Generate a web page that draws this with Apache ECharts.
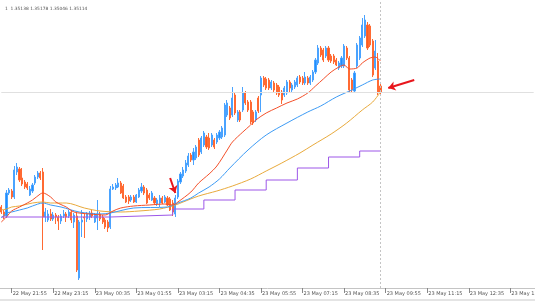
<!DOCTYPE html>
<html><head><meta charset="utf-8">
<script src="https://cdn.jsdelivr.net/npm/echarts@6/dist/echarts.min.js"></script>
<style>html,body{margin:0;padding:0;background:#fff;overflow:hidden}#c{width:535px;height:301px}</style>
</head><body><div id="c"></div>
<script>
// header quote text
const headerText = '1  1.35138 1.35178 1.35046 1.35114';

// time axis tick labels (every 80 minutes)
const tickLabels = ['22 May 21:55','22 May 23:15','23 May 00:35','23 May 01:55','23 May 03:15','23 May 04:35','23 May 05:55','23 May 07:15','23 May 08:35','23 May 09:55','23 May 11:15','23 May 12:35','23 May 13:55'];

// 5-minute bar slots from 22 May 21:35 (including empty future slots)
const categories = [];
for (let k = 0; k < 206; k++) {
  const m = 21 * 60 + 35 + 5 * k;
  const day = m >= 1440 ? 23 : 22;
  const mm = m % 1440;
  categories.push(day + ' May ' + String(Math.floor(mm / 60)).padStart(2, '0') + ':' + String(mm % 60).padStart(2, '0'));
}

// candles: [open, close, low, high]
const ohlc = [
[1.3393,1.3388,1.3386,1.3395],[1.3388,1.3384,1.3381,1.3390],[1.3384,1.3407,1.3382,1.3410],[1.3407,1.3410,1.3405,1.3412],
[1.3409,1.3403,1.3401,1.3411],[1.3403,1.3430,1.3401,1.3434],[1.3428,1.3433,1.3425,1.3437],[1.3431,1.3420,1.3418,1.3433],
[1.3422,1.3416,1.3414,1.3432],[1.3418,1.3413,1.3411,1.3420],[1.3416,1.3412,1.3410,1.3418],[1.3405,1.3411,1.3404,1.3414],
[1.3409,1.3415,1.3407,1.3417],[1.3417,1.3423,1.3415,1.3425],[1.3423,1.3427,1.3421,1.3429],[1.3427,1.3422,1.3420,1.3429],
[1.3428,1.3383,1.3350,1.3432],[1.3383,1.3388,1.3378,1.3392],[1.3380,1.3386,1.3378,1.3390],[1.3386,1.3381,1.3379,1.3391],
[1.3381,1.3385,1.3379,1.3388],[1.3385,1.3383,1.3376,1.3387],[1.3383,1.3379,1.3370,1.3385],[1.3379,1.3384,1.3376,1.3386],
[1.3384,1.3386,1.3382,1.3390],[1.3386,1.3383,1.3378,1.3388],[1.3384,1.3388,1.3382,1.3390],[1.3388,1.3380,1.3377,1.3390],
[1.3378,1.3385,1.3372,1.3387],[1.3384,1.3330,1.3328,1.3387],[1.3322,1.3378,1.3320,1.3380],[1.3378,1.3380,1.3363,1.3390],
[1.3383,1.3382,1.3362,1.3386],[1.3381,1.3386,1.3378,1.3388],[1.3383,1.3387,1.3380,1.3389],[1.3387,1.3384,1.3382,1.3390],
[1.3378,1.3385,1.3377,1.3387],[1.3382,1.3386,1.3370,1.3400],[1.3386,1.3381,1.3379,1.3388],[1.3383,1.3378,1.3376,1.3385],
[1.3380,1.3373,1.3371,1.3382],[1.3378,1.3372,1.3368,1.3380],[1.3373,1.3411,1.3371,1.3414],[1.3411,1.3413,1.3410,1.3416],
[1.3412,1.3415,1.3410,1.3417],[1.3413,1.3417,1.3412,1.3422],[1.3417,1.3407,1.3406,1.3419],[1.3414,1.3402,1.3401,1.3416],
[1.3403,1.3398,1.3397,1.3405],[1.3403,1.3399,1.3396,1.3405],[1.3400,1.3403,1.3398,1.3405],[1.3403,1.3398,1.3397,1.3405],
[1.3398,1.3405,1.3397,1.3406],[1.3403,1.3410,1.3402,1.3412],[1.3409,1.3413,1.3407,1.3417],[1.3413,1.3407,1.3405,1.3415],
[1.3410,1.3397,1.3396,1.3412],[1.3405,1.3402,1.3400,1.3407],[1.3400,1.3407,1.3399,1.3409],[1.3402,1.3397,1.3395,1.3404],
[1.3396,1.3400,1.3394,1.3402],[1.3397,1.3402,1.3393,1.3405],[1.3402,1.3397,1.3396,1.3404],[1.3398,1.3403,1.3397,1.3405],
[1.3402,1.3395,1.3394,1.3404],[1.3401,1.3390,1.3389,1.3403],[1.3397,1.3388,1.3384,1.3400],[1.3386,1.3402,1.3383,1.3405],
[1.3403,1.3419,1.3401,1.3421],[1.3418,1.3426,1.3416,1.3428],[1.3424,1.3430,1.3422,1.3433],[1.3429,1.3437,1.3427,1.3440],
[1.3435,1.3444,1.3433,1.3447],[1.3445,1.3440,1.3438,1.3447],[1.3440,1.3448,1.3435,1.3452],[1.3442,1.3453,1.3440,1.3455],
[1.3460,1.3445,1.3443,1.3462],[1.3448,1.3462,1.3446,1.3464],[1.3455,1.3467,1.3453,1.3469],[1.3463,1.3453,1.3451,1.3465],
[1.3462,1.3452,1.3450,1.3467],[1.3455,1.3465,1.3453,1.3467],[1.3460,1.3453,1.3451,1.3462],[1.3458,1.3465,1.3456,1.3467],
[1.3462,1.3468,1.3460,1.3470],[1.3463,1.3472,1.3461,1.3474],[1.3465,1.3495,1.3463,1.3497],[1.3485,1.3497,1.3483,1.3500],
[1.3492,1.3482,1.3480,1.3494],[1.3485,1.3502,1.3483,1.3513],[1.3505,1.3487,1.3485,1.3507],[1.3480,1.3488,1.3478,1.3490],
[1.3488,1.3480,1.3478,1.3490],[1.3490,1.3507,1.3488,1.3513],[1.3507,1.3497,1.3495,1.3509],[1.3498,1.3490,1.3488,1.3500],
[1.3498,1.3478,1.3476,1.3500],[1.3488,1.3477,1.3475,1.3490],[1.3480,1.3488,1.3478,1.3490],[1.3502,1.3489,1.3487,1.3504],
[1.3505,1.3522,1.3488,1.3524],[1.3522,1.3515,1.3513,1.3524],[1.3521,1.3512,1.3510,1.3523],[1.3520,1.3512,1.3510,1.3522],
[1.3512,1.3518,1.3510,1.3520],[1.3517,1.3510,1.3508,1.3519],[1.3515,1.3507,1.3505,1.3517],[1.3513,1.3505,1.3503,1.3515],
[1.3508,1.3500,1.3496,1.3510],[1.3505,1.3512,1.3503,1.3514],[1.3507,1.3518,1.3505,1.3520],[1.3518,1.3512,1.3508,1.3520],
[1.3510,1.3515,1.3508,1.3517],[1.3513,1.3518,1.3511,1.3520],[1.3515,1.3522,1.3513,1.3524],[1.3523,1.3518,1.3516,1.3525],
[1.3522,1.3517,1.3515,1.3524],[1.3517,1.3523,1.3515,1.3528],[1.3522,1.3517,1.3515,1.3524],[1.3517,1.3523,1.3515,1.3525],
[1.3520,1.3528,1.3518,1.3530],[1.3528,1.3540,1.3526,1.3542],[1.3537,1.3552,1.3535,1.3555],[1.3552,1.3545,1.3543,1.3554],
[1.3550,1.3540,1.3538,1.3552],[1.3544,1.3552,1.3542,1.3554],[1.3552,1.3540,1.3538,1.3554],[1.3544,1.3539,1.3537,1.3546],
[1.3544,1.3538,1.3536,1.3546],[1.3540,1.3535,1.3534,1.3542],[1.3532,1.3537,1.3530,1.3539],[1.3534,1.3542,1.3532,1.3544],
[1.3534,1.3554,1.3532,1.3556],[1.3552,1.3542,1.3540,1.3554],[1.3542,1.3510,1.3508,1.3544],[1.3520,1.3510,1.3508,1.3522],
[1.3509,1.3527,1.3507,1.3529],[1.3534,1.3555,1.3532,1.3557],[1.3542,1.3562,1.3540,1.3564],[1.3555,1.3575,1.3553,1.3582],
[1.3564,1.3580,1.3562,1.3585],[1.3575,1.3552,1.3550,1.3578],[1.3574,1.3555,1.3553,1.3576],[1.3559,1.3525,1.3523,1.3561],
[1.3532,1.3549,1.3530,1.3560],[1.3539,1.3507,1.3505,1.3547],[1.3514,1.3508,1.3505,1.3516]
];

// moving averages, read at sampled bars: [barIndex, value]
const maFast = [[0,1.3378],[2,1.3383],[4,1.3389],[7,1.3393],[10,1.3397],[12,1.3400],[15,1.3406],[16,1.3407],[19,1.3403],[21,1.3398],[25,1.3393],[28,1.3388],[34,1.3386],[40,1.3385],[43,1.3389],[46,1.3392],[51,1.3394],[57,1.3395],[63,1.3396],[66,1.3395],[68,1.3398],[73,1.3408],[76,1.3417],[80,1.3426],[83,1.3434],[87,1.3450],[89,1.3458],[93,1.3468],[96,1.3475],[98,1.3480],[102,1.3487],[106,1.3492],[110,1.3497],[114,1.3501],[118,1.3507],[121,1.3514],[124,1.3521],[127,1.3528],[130,1.3533],[132,1.3535],[134,1.3531],[137,1.3532],[139,1.3537],[142,1.3542],[144,1.3543],[146,1.3539]];
const maMid = [[0,1.3382],[2,1.3387],[4,1.3388],[7,1.3390],[10,1.3392],[12,1.3394],[16,1.3397],[19,1.3395],[23,1.3393],[30,1.3388],[38,1.3386],[42,1.3387],[51,1.3392],[64,1.3393],[68,1.3397],[73,1.3402],[76,1.3407],[80,1.3413],[84,1.3421],[88,1.3432],[95,1.3450],[102,1.3465],[110,1.3477],[118,1.3488],[123,1.3494],[129,1.3503],[135,1.3510],[139,1.3515],[143,1.3520],[146,1.3521]];
const maSlow = [[0,1.3390],[2,1.3391],[4,1.3393],[7,1.3394],[12,1.3397],[16,1.3398],[19,1.3397],[25,1.3397],[32,1.3392],[38,1.3389],[46,1.3388],[53,1.3389],[61,1.3391],[67,1.3395],[70,1.3398],[76,1.3404],[83,1.3409],[89,1.3414],[96,1.3421],[102,1.3429],[108,1.3437],[115,1.3447],[120,1.3455],[127,1.3466],[133,1.3477],[139,1.3490],[143,1.3498],[146,1.3508]];
// hourly step level: [barIndex where level starts, value]
const hourLevel = [[0,1.3383],[42,1.3385],[66,1.3391],[78,1.3400],[90,1.3410],[102,1.3420],[114,1.3432],[126,1.3443],[138,1.3449],[146,1.3449]];

const bidPrice = 1.3508;
const lastBar = 146;
const arrowDown = [[65,1.3422],[67,1.3407]];
const arrowLeft = [[159,1.3520],[149,1.3512]];

const chart = echarts.init(document.getElementById('c'), null, {renderer: 'canvas', width: 535, height: 301});
const FONT = 'DejaVu Sans';
chart.setOption({
  animation: false,
  backgroundColor: '#ffffff',
  title: {text: headerText, left: 0, top: 2, textStyle: {fontSize: 4.4, fontWeight: 'normal', color: '#555', fontFamily: FONT}},
  grid: {left: 0, right: 0, top: 0, bottom: 13, containLabel: false, outerBoundsMode: 'none'},
  xAxis: {
    type: 'category', data: categories, boundaryGap: true,
    axisLine: {show: true, lineStyle: {color: '#c4c4c4', width: 1}},
    axisTick: {show: true, alignWithLabel: true, length: 5, lineStyle: {color: '#888'},
      interval: (i, v) => tickLabels.indexOf(v) >= 0},
    axisLabel: {show: true, interval: (i, v) => tickLabels.indexOf(v) >= 0, hideOverlap: false,
      align: 'left', padding: [0, 0, 0, 1], margin: 3, fontSize: 5, color: '#555', fontFamily: FONT},
    splitLine: {show: false}
  },
  yAxis: {type: 'value', min: 1.3312, max: 1.3600, show: false, splitLine: {show: false}},
  graphic: [
    {type: 'rect', left: 0, bottom: 0, shape: {width: 535, height: 2}, style: {fill: '#e4e4e4'}, silent: true}
  ],
  series: [
    {
      type: 'candlestick', data: ohlc, barWidth: 1.6,
      itemStyle: {color: '#1e8fff', color0: '#ff5a1f', borderColor: '#4aa3ff', borderColor0: '#ff6a33', borderWidth: 1},
      markLine: {
        silent: true, symbol: ['none', 'none'], label: {show: false},
        data: [
          [{coord: [0, bidPrice], lineStyle: {color: '#e0e0e0', width: 1, type: 'solid'}}, {coord: [205, bidPrice]}],
          [{coord: [lastBar, 1.3312], lineStyle: {color: '#c4c4c4', width: 1, type: [2, 2]}}, {coord: [lastBar, 1.3600]}]
        ]
      }
    },
    {type: 'line', data: maSlow, showSymbol: false, smooth: 0.3, lineStyle: {color: '#e9aa3c', width: 1}, z: 3},
    {type: 'line', data: maMid, showSymbol: false, smooth: 0.3, lineStyle: {color: '#3d9bf5', width: 1}, z: 3},
    {type: 'line', data: maFast, showSymbol: false, smooth: 0.3, lineStyle: {color: '#f4502a', width: 1}, z: 3,
      markLine: {
        silent: true, symbol: ['none', 'arrow'], symbolSize: 7, label: {show: false},
        lineStyle: {color: '#e8161c', width: 2, type: 'solid'},
        data: [
          [{coord: arrowDown[0]}, {coord: arrowDown[1]}],
          [{coord: arrowLeft[0]}, {coord: arrowLeft[1]}]
        ]
      }
    },
    {type: 'line', data: hourLevel, step: 'end', showSymbol: false, lineStyle: {color: '#9d57e8', width: 1}, z: 3}
  ]
});
</script>
</body></html>
